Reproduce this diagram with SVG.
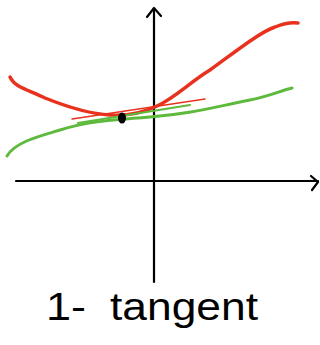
<svg xmlns="http://www.w3.org/2000/svg" width="320" height="345" viewBox="0 0 320 345">
<style>
.ax{fill:none;stroke:#000;stroke-width:2.2;stroke-linecap:round;stroke-linejoin:round}
.red{fill:none;stroke:#e8321e;stroke-width:3.5;stroke-linecap:round;stroke-linejoin:round}
.green{fill:none;stroke:#5dba3c;stroke-width:3;stroke-linecap:round;stroke-linejoin:round}
.rt{fill:none;stroke:#e8321e;stroke-width:1.5;stroke-linecap:round}
.gt{fill:none;stroke:#5dba3c;stroke-width:2;stroke-linecap:round}
.lbl{font-family:"Liberation Sans",Arial,sans-serif;font-size:38px;fill:#000}
</style>
<rect width="320" height="345" fill="#fff"/>
<g id="axes">
<path class="ax" d="M154,282 L154,9"/>
<path class="ax" d="M147,17 L154,8 L161,16"/>
<path class="ax" d="M16,181 L318,181"/>
<path class="ax" d="M311,176 L318,182 L312,190"/>
</g>
<g id="curves">
<path class="green" d="M7,156 C15,142 40,136 60,130 C85,122 110,120 150,117 C190,114 210,108 250,100 C270,96 280,91 292,88"/>
<path class="red" d="M10,77 C15,88 30,90 45,98 C70,108 90,114 110,115 C130,116 145,112 157,106 C175,98 190,82 210,70 C235,52 260,32 275,27 C285,23 292,22 298,23"/>
</g>
<g id="tangents">
<path class="rt" d="M72,119 L205,99"/>
<path class="gt" d="M78,123 L190,105"/>
</g>
<g id="point">
<ellipse cx="122" cy="118" rx="4" ry="5.5" fill="#000"/>
</g>
<g id="label">
<text class="lbl" x="46" y="320" textLength="40" lengthAdjust="spacingAndGlyphs">1-</text>
<text class="lbl" x="110" y="320" textLength="148" lengthAdjust="spacingAndGlyphs">tangent</text>
</g>
</svg>
